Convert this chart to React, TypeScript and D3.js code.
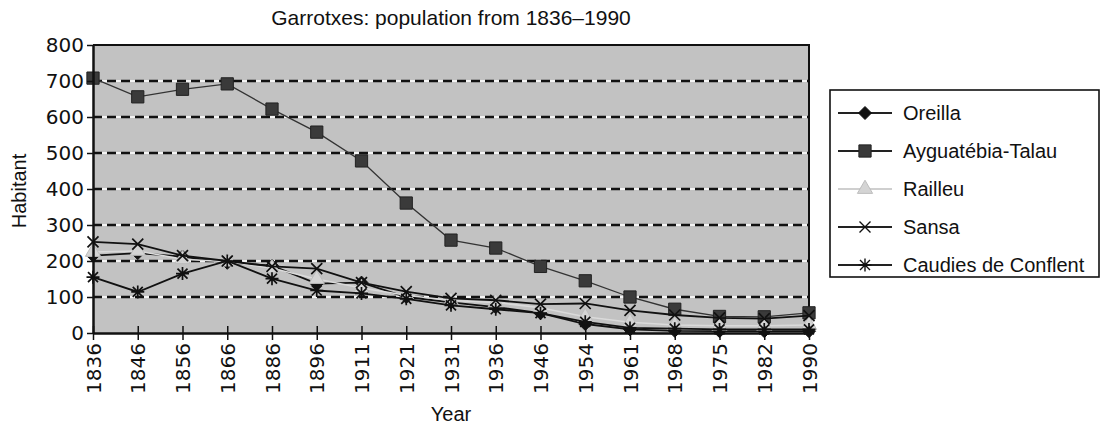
import { useEffect, useRef } from "react";
import * as d3 from "d3";

// Census years (categories on the x axis)
const years = [
  "1836", "1846", "1856", "1866", "1886", "1896", "1911", "1921", "1931",
  "1936", "1946", "1954", "1961", "1968", "1975", "1982", "1990",
];

// Inhabitants per village
const oreilla = [215, 222, 212, 195, 187, 137, 140, 100, 85, 72, 55, 25, 10, 6, 5, 5, 5];
const ayguatebia = [708, 656, 677, 692, 622, 558, 478, 361, 258, 236, 185, 145, 100, 66, 46, 45, 56];
const railleu = [225, 228, 205, 198, 180, 150, 125, 105, 90, 85, 70, 45, 30, 22, 20, 20, 22];
const sansa = [253, 247, 215, 200, 185, 179, 140, 115, 96, 91, 80, 82, 63, 50, 42, 40, 48];
const caudies = [155, 114, 165, 200, 151, 118, 110, 95, 77, 66, 55, 31, 14, 12, 10, 10, 10];

const yTicks = [0, 100, 200, 300, 400, 500, 600, 700, 800];
const gridTicks = [100, 200, 300, 400, 500, 600, 700];

type MarkerKind = "diamond" | "square" | "triangle" | "cross" | "star";

interface Series {
  name: string;
  values: number[];
  line: string;
  lineWidth: number;
  marker: MarkerKind;
  fill: string;
  stroke: string;
}

const series: Series[] = [
  { name: "Oreilla", values: oreilla, line: "#111", lineWidth: 1.8, marker: "diamond", fill: "#111", stroke: "#111" },
  { name: "Ayguatébia-Talau", values: ayguatebia, line: "#333", lineWidth: 1.3, marker: "square", fill: "#3a3a3a", stroke: "#222" },
  { name: "Railleu", values: railleu, line: "#dadada", lineWidth: 1.5, marker: "triangle", fill: "#d4d4d4", stroke: "#bdbdbd" },
  { name: "Sansa", values: sansa, line: "#111", lineWidth: 1.8, marker: "cross", fill: "none", stroke: "#111" },
  { name: "Caudies de Conflent", values: caudies, line: "#111", lineWidth: 1.8, marker: "star", fill: "none", stroke: "#111" },
];

const W = 1101;
const H = 432;

function markerPath(kind: MarkerKind): string {
  switch (kind) {
    case "diamond":
      return "M0,-6.5L6.5,0L0,6.5L-6.5,0Z";
    case "square":
      return d3.symbol(d3.symbolSquare, 150)()!;
    case "triangle":
      return d3.symbol(d3.symbolTriangle, 100)()!;
    case "cross":
      return "M-5.5,-5.5L5.5,5.5M-5.5,5.5L5.5,-5.5";
    case "star":
      return "M-5,-5L5,5M-5,5L5,-5M0,-6.5V6.5M-6.5,0H6.5";
  }
}

export default function App() {
  const svgRef = useRef<SVGSVGElement>(null);

  useEffect(() => {
    if (!svgRef.current) return;
    const svg = d3.select(svgRef.current);
    svg.selectAll("*").remove();

    const left = 93;
    const right = 809;
    const top = 45;
    const bottom = 333;

    const x = d3.scalePoint<string>().domain(years).range([left, right]);
    const y = d3.scaleLinear().domain([0, 800]).range([bottom, top]);

    svg.append("rect").attr("width", W).attr("height", H).attr("fill", "#fff");

    // plot background
    svg
      .append("rect")
      .attr("x", left)
      .attr("y", top)
      .attr("width", right - left)
      .attr("height", bottom - top)
      .attr("fill", "#c2c2c2");

    // dashed gridlines (white under black dashes)
    const grid = svg.append("g");
    grid
      .selectAll("line.gw")
      .data(gridTicks)
      .join("line")
      .attr("class", "gw")
      .attr("x1", left)
      .attr("x2", right)
      .attr("y1", (d) => y(d))
      .attr("y2", (d) => y(d))
      .attr("stroke", "#f4f4f4")
      .attr("stroke-width", 2);
    grid
      .selectAll("line.gb")
      .data(gridTicks)
      .join("line")
      .attr("class", "gb")
      .attr("x1", left)
      .attr("x2", right)
      .attr("y1", (d) => y(d))
      .attr("y2", (d) => y(d))
      .attr("stroke", "#111")
      .attr("stroke-width", 2.4)
      .attr("stroke-dasharray", "9,5");

    // frame: top and right
    svg
      .append("path")
      .attr("d", `M${left},${top}H${right}V${bottom}`)
      .attr("fill", "none")
      .attr("stroke", "#111")
      .attr("stroke-width", 2);

    // series lines and markers
    series.forEach((s) => {
      const line = d3
        .line<number>()
        .x((_d, i) => x(years[i])!)
        .y((d) => y(d));
      svg
        .append("path")
        .datum(s.values)
        .attr("d", line)
        .attr("fill", "none")
        .attr("stroke", s.line)
        .attr("stroke-width", s.lineWidth);
      svg
        .append("g")
        .selectAll("path")
        .data(s.values)
        .join("path")
        .attr("transform", (d, i) => `translate(${x(years[i])},${y(d)})`)
        .attr("d", markerPath(s.marker))
        .attr("fill", s.fill)
        .attr("stroke", s.stroke)
        .attr("stroke-width", s.marker === "cross" || s.marker === "star" ? 1.7 : 1);
    });

    // y axis
    const yAxis = svg
      .append("g")
      .attr("transform", `translate(${left},0)`)
      .call(d3.axisLeft(y).tickValues(yTicks).tickSize(6).tickPadding(3).tickSizeOuter(0));
    yAxis.select(".domain").attr("stroke", "#111").attr("stroke-width", 2.5);
    yAxis.selectAll(".tick line").attr("stroke", "#111").attr("stroke-width", 1.5);
    yAxis
      .selectAll(".tick text")
      .attr("fill", "#111")
      .style("font-family", "'DejaVu Sans', sans-serif")
      .style("font-size", "20px");

    // x axis with ticks crossing the axis and vertical labels
    const xAxis = svg
      .append("g")
      .attr("transform", `translate(0,${bottom})`)
      .call(d3.axisBottom(x).tickSize(7).tickSizeOuter(0));
    xAxis.select(".domain").attr("stroke", "#111").attr("stroke-width", 2.5);
    xAxis
      .selectAll(".tick line")
      .attr("y1", -7)
      .attr("y2", 7)
      .attr("stroke", "#111")
      .attr("stroke-width", 1.5);
    xAxis
      .selectAll(".tick text")
      .attr("fill", "#111")
      .attr("transform", "rotate(-90)")
      .attr("x", -10)
      .attr("y", 0)
      .attr("dy", "0.36em")
      .style("text-anchor", "end")
      .style("font-family", "'DejaVu Sans', sans-serif")
      .style("font-size", "20px");

    const font = "'Liberation Sans', Arial, sans-serif";

    svg
      .append("text")
      .attr("x", 451)
      .attr("y", 25)
      .attr("text-anchor", "middle")
      .style("font-family", font)
      .style("font-size", "21px")
      .attr("fill", "#111")
      .text("Garrotxes: population from 1836\u20131990");

    svg
      .append("text")
      .attr("transform", "translate(26,191) rotate(-90)")
      .attr("text-anchor", "middle")
      .style("font-family", font)
      .style("font-size", "20px")
      .attr("fill", "#111")
      .text("Habitant");

    svg
      .append("text")
      .attr("x", 451)
      .attr("y", 421)
      .attr("text-anchor", "middle")
      .style("font-family", font)
      .style("font-size", "20px")
      .attr("fill", "#111")
      .text("Year");

    // legend
    const lg = svg.append("g");
    lg.append("rect")
      .attr("x", 830)
      .attr("y", 90)
      .attr("width", 269)
      .attr("height", 187)
      .attr("fill", "#fff")
      .attr("stroke", "#111")
      .attr("stroke-width", 1.6);
    const rows = lg
      .selectAll("g.row")
      .data(series)
      .join("g")
      .attr("class", "row")
      .attr("transform", (_d, i) => `translate(0,${113 + i * 38})`);
    rows
      .append("line")
      .attr("x1", 838)
      .attr("x2", 892)
      .attr("stroke", (d) => (d.marker === "triangle" ? "#cfcfcf" : "#222"))
      .attr("stroke-width", 1.8);
    rows
      .append("path")
      .attr("transform", "translate(865,0)")
      .attr("d", (d) => markerPath(d.marker))
      .attr("fill", (d) => d.fill)
      .attr("stroke", (d) => d.stroke)
      .attr("stroke-width", (d) => (d.marker === "cross" || d.marker === "star" ? 1.4 : 1));
    rows
      .append("text")
      .attr("x", 903)
      .attr("dy", "0.36em")
      .style("font-family", font)
      .style("font-size", "20px")
      .attr("fill", "#111")
      .text((d) => d.name);
  }, []);

  return (
    <svg
      ref={svgRef}
      width={W}
      height={H}
      style={{ position: "absolute", left: 0, top: 0 }}
      role="img"
      aria-label="Garrotxes population line chart"
    />
  );
}
